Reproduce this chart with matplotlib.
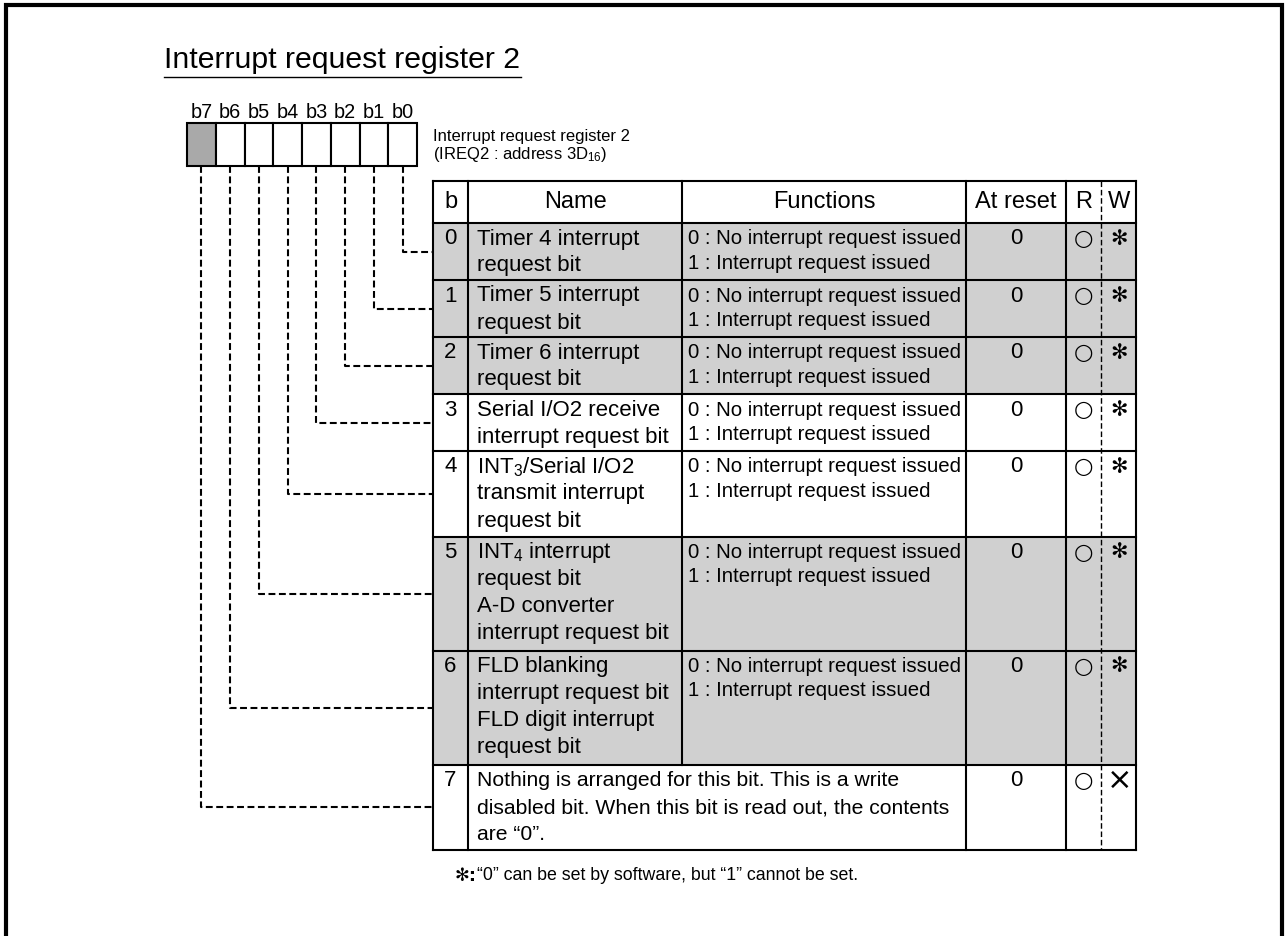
import matplotlib
matplotlib.use('Agg')
import matplotlib.pyplot as plt
from matplotlib.patches import Rectangle

plt.rcParams['font.family'] = ['Liberation Sans', 'DejaVu Sans']
plt.rcParams['mathtext.fontset'] = 'custom'
plt.rcParams['mathtext.rm'] = 'Liberation Sans'
plt.rcParams['mathtext.it'] = 'Liberation Sans'

# register content
title = 'Interrupt request register 2'
reg_label = ['Interrupt request register 2', '(IREQ2 : address 3D$_{16}$)']
bit_labels = ['b7', 'b6', 'b5', 'b4', 'b3', 'b2', 'b1', 'b0']
headers = ['b', 'Name', 'Functions', 'At reset', 'R', 'W']

bit_nums = ['0', '1', '2', '3', '4', '5', '6', '7']
names = [
    ['Timer 4 interrupt', 'request bit'],
    ['Timer 5 interrupt', 'request bit'],
    ['Timer 6 interrupt', 'request bit'],
    ['Serial I/O2 receive', 'interrupt request bit'],
    ['INT$_{3}$/Serial I/O2', 'transmit interrupt', 'request bit'],
    ['INT$_{4}$ interrupt', 'request bit', 'A-D converter', 'interrupt request bit'],
    ['FLD blanking', 'interrupt request bit', 'FLD digit interrupt', 'request bit'],
    ['Nothing is arranged for this bit. This is a write',
     'disabled bit. When this bit is read out, the contents',
     'are \u201c0\u201d.'],
]
func_lines = ['0 : No interrupt request issued', '1 : Interrupt request issued']
functions = [func_lines] * 7 + [None]
reset_vals = ['0'] * 8
r_marks = ['\u25cb'] * 8
w_marks = ['\u273b'] * 7 + ['\u00d7']
shaded = [True, True, True, False, False, True, True, False]
row_lines = [2, 2, 2, 2, 3, 4, 4, 3]
footnote = '\u201c0\u201d can be set by software, but \u201c1\u201d cannot be set.'

# layout (pixels)
W, H = 1286, 936
col_x = [433, 468, 682, 966, 1066, 1101, 1136]
tab_top = 181
head_h = 42
line_h = 28.5
box_x0, box_x1 = 187, 417
box_y0, box_y1 = 123, 166
gray_row = '#d0d0d0'
gray_bit = '#a9a9a9'
lw = 1.5
dash = (0, (3.3, 1.7))

fig = plt.figure(figsize=(W / 100, H / 100), dpi=100)
ax = fig.add_axes([0, 0, 1, 1])
ax.set_xlim(0, W)
ax.set_ylim(H, 0)
ax.axis('off')

# outer frame
ax.plot([5.5, 5.5, W - 4.5, W - 4.5], [H, 4.5, 4.5, H], color='black', lw=3, solid_joinstyle='miter')

# title
ax.text(164, 68, title, fontsize=21.8, va='baseline', ha='left')
ax.plot([164, 521], [77, 77], color='black', lw=1)

# bit boxes
cell_w = (box_x1 - box_x0) / len(bit_labels)
bit_cx = []
for i, lab in enumerate(bit_labels):
    x0 = box_x0 + i * cell_w
    fc = gray_bit if i == 0 else 'white'
    ax.add_patch(Rectangle((x0, box_y0), cell_w, box_y1 - box_y0, facecolor=fc,
                           edgecolor='black', lw=lw))
    ax.text(x0 + cell_w / 2, 113, lab, fontsize=14.3, ha='center', va='center')
    bit_cx.append(x0 + cell_w / 2)

ax.text(433, 137, reg_label[0], fontsize=12, ha='left', va='center')
ax.text(433, 155, reg_label[1], fontsize=12, ha='left', va='center')

# table rows
row_tops = [tab_top + head_h]
for n in row_lines:
    row_tops.append(row_tops[-1] + n * line_h)
tab_bot = row_tops[-1]

for i in range(len(bit_nums)):
    y0, y1 = row_tops[i], row_tops[i + 1]
    if shaded[i]:
        ax.add_patch(Rectangle((col_x[0], y0), col_x[-1] - col_x[0], y1 - y0,
                               facecolor=gray_row, edgecolor='none'))
    yc = y0 + 16
    ax.text((col_x[0] + col_x[1]) / 2, yc, bit_nums[i], fontsize=16, ha='center', va='center')
    for k, s in enumerate(names[i]):
        ax.text(col_x[1] + 9, yc + k * 27, s, fontsize=16 if functions[i] else 15.2,
                ha='left', va='center')
    if functions[i]:
        for k, s in enumerate(functions[i]):
            ax.text(col_x[2] + 6, yc + k * 24.5, s, fontsize=14.7, ha='left', va='center')
    ax.text((col_x[3] + col_x[4]) / 2, yc, reset_vals[i], fontsize=16, ha='center', va='center')
    ax.text((col_x[4] + col_x[5]) / 2, yc, r_marks[i], fontsize=16, ha='center', va='center',
            family='DejaVu Sans')
    if w_marks[i] == '\u00d7':
        ax.text((col_x[5] + col_x[6]) / 2 + 1, yc, w_marks[i], fontsize=22, ha='center',
                va='center', family='DejaVu Sans')
    else:
        ax.text((col_x[5] + col_x[6]) / 2 + 1, yc, w_marks[i], fontsize=15, ha='center',
                va='center', family='DejaVu Sans', fontweight='bold')

    # connector from bit box to row
    bx = bit_cx[len(bit_cx) - 1 - i]
    ym = (y0 + y1) / 2
    ax.plot([bx, bx, col_x[0]], [box_y1, ym, ym], color='black', lw=lw, linestyle=dash)

# header
for j, h in enumerate(headers):
    cx = (col_x[j] + col_x[j + 1]) / 2 + (1 if j == 5 else 0)
    ax.text(cx, tab_top + head_h / 2, h, fontsize=17, ha='center', va='center')

# grid lines
for y in row_tops:
    ax.plot([col_x[0], col_x[-1]], [y, y], color='black', lw=lw)
ax.plot([col_x[0], col_x[-1]], [tab_top, tab_top], color='black', lw=lw)
for j, x in enumerate(col_x):
    if j == 5:
        ax.plot([x, x], [tab_top, tab_bot], color='black', lw=1, linestyle=(0, (4, 2)))
    elif j == 2:
        # Name/Functions divider stops above the last row
        ax.plot([x, x], [tab_top, row_tops[-2]], color='black', lw=lw)
    else:
        ax.plot([x, x], [tab_top, tab_bot], color='black', lw=lw)

# footnote
ax.text(455, 876, '\u273b:', fontsize=12.8, ha='left', va='center', fontweight='bold',
        family='DejaVu Sans')
ax.text(477, 876, footnote, fontsize=12.8, ha='left', va='center')

fig.savefig('out.png', dpi=100, facecolor='white')
